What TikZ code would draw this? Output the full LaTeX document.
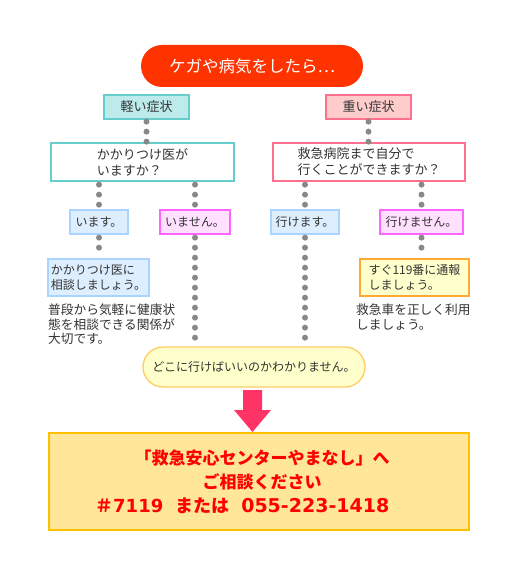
\documentclass[tikz,border=0pt]{standalone}
\usepackage{fontspec}
\setmainfont{Noto Sans CJK JP}
\newfontfamily\jp{Noto Sans CJK JP}
\newfontfamily\digits{DejaVu Sans}
\definecolor{titlered}{HTML}{FF3300}
\definecolor{tealfill}{HTML}{BDEAEA}
\definecolor{tealline}{HTML}{66CCCC}
\definecolor{pinkfill}{HTML}{FFCCCC}
\definecolor{pinkline}{HTML}{FF6F8F}
\definecolor{bluefill}{HTML}{DDEEFF}
\definecolor{blueline}{HTML}{AAD4FF}
\definecolor{magfill}{HTML}{FFE0FF}
\definecolor{magline}{HTML}{FF66FF}
\definecolor{yelfill}{HTML}{FFFFCC}
\definecolor{oraline}{HTML}{FFAA33}
\definecolor{pillline}{HTML}{FFCC66}
\definecolor{goldfill}{HTML}{FFE699}
\definecolor{goldline}{HTML}{FFC000}
\definecolor{arrowpink}{HTML}{FF3366}
\definecolor{txt}{HTML}{333333}
\definecolor{dotgray}{HTML}{888888}
\begin{document}
\begin{tikzpicture}[x=1pt,y=-1pt,
  every node/.style={font=\jp\fontsize{13}{16}\selectfont, text=txt, inner sep=0pt},
  box/.style={draw, line width=1.3pt, rectangle},
  small/.style={font=\jp\fontsize{12}{15}\selectfont},
  dots/.style={draw=dotgray, line width=6pt, line cap=round, dash pattern=on 0pt off 10pt},
]
\useasboundingbox (0,0) rectangle (515,561);
% title
\node[fill=titlered, rounded corners=21pt, minimum width=222pt, minimum height=42pt,
  text=white, font=\jp\fontsize{16.5}{20}\selectfont] (title) at (252,66) {ケガや病気をしたら…};
% categories
\node[box, draw=tealline, fill=tealfill, minimum width=85pt, minimum height=24pt] (light) at (146.5,107) {軽い症状};
\node[box, draw=pinkline, fill=pinkfill, minimum width=85pt, minimum height=24pt] (heavy) at (368.5,107) {重い症状};
% questions
\node[box, draw=tealline, fill=white, minimum width=183pt, minimum height=38pt, align=left] (q1) at (142.5,162) {かかりつけ医が\\いますか？};
\node[box, draw=pinkline, fill=white, minimum width=192pt, minimum height=38pt, align=left] (q2) at (369,162) {救急病院まで自分で\\行くことができますか？};
% answers
\node[box, small, draw=blueline, fill=bluefill, minimum width=58pt, minimum height=24pt] (yes1) at (99,222) {います。};
\node[box, small, draw=magline, fill=magfill, minimum width=70pt, minimum height=24pt] (no1) at (195,222) {いません。};
\node[box, small, draw=blueline, fill=bluefill, minimum width=68pt, minimum height=24pt] (yes2) at (305,222) {行けます。};
\node[box, small, draw=magline, fill=magfill, minimum width=83pt, minimum height=24pt] (no2) at (421.5,222) {行けません。};
% advice
\node[box, small, draw=blueline, fill=bluefill, minimum width=101pt, minimum height=37pt, align=left] (adv1) at (98.5,277.5) {かかりつけ医に\\相談しましょう。};
\node[anchor=north west, align=left, font=\jp\fontsize{12.7}{14.5}\selectfont] (note1) at (48,304) {普段から気軽に健康状\\態を相談できる関係が\\大切です。};
\node[box, small, draw=oraline, fill=yelfill, minimum width=109pt, minimum height=37pt, align=left] (adv2) at (414.5,277.5) {すぐ119番に通報\\しましょう。};
\node[anchor=north west, align=left, font=\jp\fontsize{12.7}{14.5}\selectfont] (note2) at (356,304) {救急車を正しく利用\\しましょう。};
% end pill
\node[small, draw=pillline, line width=1.3pt, fill=yelfill, rounded corners=20pt, minimum width=222pt, minimum height=40pt] (unk) at (254,367) {どこに行けばいいのかわかりません。};
% final box
\node[draw=goldline, line width=2pt, fill=goldfill, minimum width=420pt, minimum height=97pt] (final) at (259,481.5) {};
\node[text=red, font=\jp\bfseries\fontsize{17}{24}\selectfont, align=center] (l1) at (262,470) {「救急安心センターやまなし」へ\\ご相談ください};
\node[text=red, font=\jp\bfseries\fontsize{18}{24}\selectfont, anchor=west] (l3) at (95,506)
  {＃{\digits\bfseries 7119}\hspace{12pt}または\hspace{12pt}{\digits\bfseries\fontsize{19}{24}\selectfont 055-223-1418}};
% arrow
\coordinate (atop) at (252.5,390);
\fill[arrowpink] (atop) ++(-9.5,0) -- ++(19,0) -- ++(0,20) -- ++(9,0) -- (252.5,432) -- (234,410) -- (243,410) -- cycle;
% dotted connectors
\draw[dots] ([yshift=-2pt]light.south) -- ([yshift=0.5pt]light.south |- q1.north);
\draw[dots] ([yshift=-2pt]heavy.south) -- ([yshift=0.5pt]heavy.south |- q2.north);
\draw[dots] ([yshift=-3pt]q1.south -| yes1) -- ([yshift=2pt]yes1.north);
\draw[dots] ([yshift=-3pt]q1.south -| no1) -- ([yshift=2pt]no1.north);
\draw[dots] ([yshift=-3pt]q2.south -| yes2) -- ([yshift=2pt]yes2.north);
\draw[dots] ([yshift=-3pt]q2.south -| no2) -- ([yshift=2pt]no2.north);
\draw[dots] ([yshift=-3pt]yes1.south) -- ([yshift=2pt]yes1.south |- adv1.north);
\draw[dots] ([yshift=-3pt]no2.south) -- ([yshift=2pt]no2.south |- adv2.north);
\draw[dots] ([yshift=-3pt]no1.south) -- ([yshift=2pt]no1.south |- unk.north);
\draw[dots] ([yshift=-3pt]yes2.south) -- ([yshift=2pt]yes2.south |- unk.north);
\end{tikzpicture}
\end{document}
